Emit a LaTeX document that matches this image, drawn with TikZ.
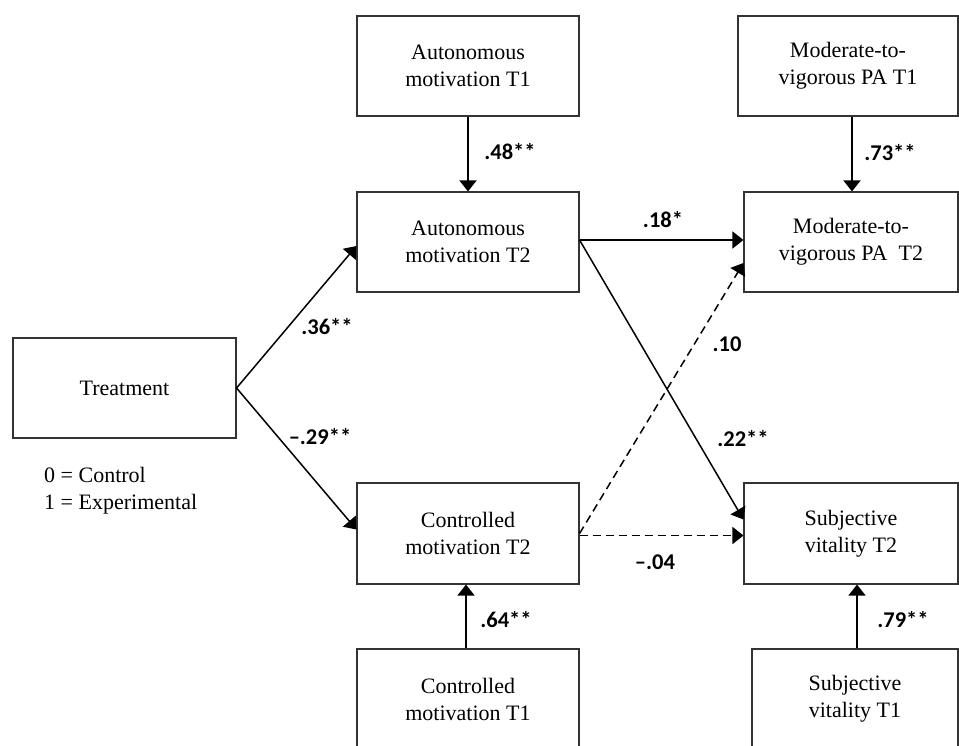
\documentclass[tikz,border=0pt]{standalone}
\usepackage{fontspec}
\setmainfont{Liberation Serif}
\newfontfamily\lblfont{Carlito}
\usetikzlibrary{arrows.meta}
\begin{document}
\begin{tikzpicture}[x=1pt,y=-1pt,
 box/.style={draw=black!80,line width=1.1pt,minimum height=100pt,align=center,inner sep=0pt,font=\fontsize{22}{27}\selectfont},
 arr/.style={line width=1.5pt,-{Triangle[length=11pt,width=17pt]}},
 darr/.style={arr,dash pattern=on 8pt off 5pt},
 coef/.style={font=\lblfont\bfseries\fontsize{22.5}{27}\selectfont,anchor=base,inner sep=0pt},
 legend/.style={font=\fontsize{22}{27}\selectfont,anchor=base west,inner sep=0pt}]
\useasboundingbox (0,0) rectangle (959,745);
\fill[white] (0,0) rectangle (959,745);

\node[box,minimum width=222pt] (amt1) at (468,66) {Autonomous\\motivation T1};
\node[box,minimum width=222pt] (amt2) at (468,242) {Autonomous\\motivation T2};
\node[box,minimum width=220pt] (mvt1) at (848,66) {Moderate-to-\\vigorous PA T1};
\node[box,minimum width=214pt] (mvt2) at (851,242) {Moderate-to-\\vigorous PA\ \ T2};
\node[box,minimum width=223pt] (treat) at (124.5,388) {Treatment};
\node[box,minimum width=222pt,minimum height=101pt] (ct2) at (468,533.5) {Controlled\\motivation T2};
\node[box,minimum width=222pt] (ct1) at (468,699) {Controlled\\motivation T1};
\node[box,minimum width=214pt,minimum height=101pt] (sv2) at (851,533.5) {Subjective\\vitality T2};
\node[box,minimum width=206pt] (sv1) at (855,699) {Subjective\\vitality T1};

\node[legend] (lg0) at (44,482) {0 = Control};
\node[legend] (lg1) at (44,509) {1 = Experimental};

\draw[arr] (amt1.south) -- (amt1.south |- amt2.north);
\draw[arr] ([xshift=4pt]mvt1.south) -- ([xshift=4pt]mvt1.south |- mvt2.north);
\draw[arr] ([xshift=-2pt]ct1.north) -- ([xshift=-2pt]ct1.north |- ct2.south);
\draw[arr] ([xshift=2pt]sv1.north) -- ([xshift=2pt]sv1.north |- sv2.south);
\draw[arr] (treat.east) -- ([yshift=-4pt]amt2.west);
\draw[arr] (treat.east) -- ([yshift=4pt]ct2.west);
\draw[arr] ([yshift=2pt]amt2.east) -- ([yshift=2pt]mvt2.west);
\draw[arr] ([yshift=2pt]amt2.east) -- ([yshift=14pt]sv2.west);
\draw[darr] (ct2.east) -- ([yshift=-21pt]mvt2.west);
\draw[darr] ([yshift=-2pt]ct2.east) -- ([yshift=-2pt]sv2.west);

\node[coef] (c48) at (510,159) {.48**};
\node[coef] (c73) at (890,160) {.73**};
\node[coef] (c18) at (663,227) {.18*};
\node[coef] (c10) at (727,351) {.10};
\node[coef] (c22) at (743,446) {.22**};
\node[coef] (c36) at (327,334) {.36**};
\node[coef] (c29) at (320,444) {–.29**};
\node[coef] (c04) at (655,569) {–.04};
\node[coef] (c64) at (506,627) {.64**};
\node[coef] (c79) at (903,627) {.79**};
\end{tikzpicture}
\end{document}
